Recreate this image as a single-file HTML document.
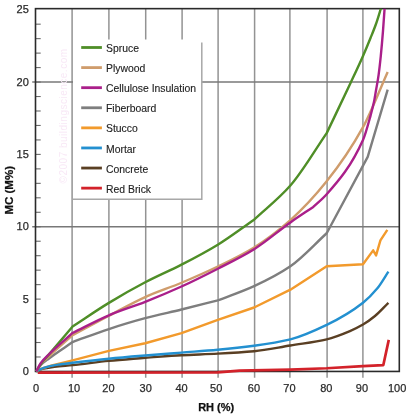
<!DOCTYPE html>
<html><head><meta charset="utf-8"><style>
html,body{margin:0;padding:0;background:#fff;width:420px;height:416px;overflow:hidden}
svg{display:block;filter:blur(0.45px);will-change:transform}
.ax{font-family:"Liberation Sans",sans-serif;font-size:11px;fill:#2a2a2a;stroke:#2a2a2a;stroke-width:0.25px}
.lg{font-family:"Liberation Sans",sans-serif;font-size:10.4px;fill:#222;stroke:#222;stroke-width:0.12px}
.ti{font-family:"Liberation Sans",sans-serif;font-size:11px;font-weight:bold;fill:#111;stroke:#111;stroke-width:0.25px}
.wm{font-family:"Liberation Sans",sans-serif;font-size:10px;letter-spacing:0.5px;fill:#f8e8f6}
</style></head><body>
<svg width="420" height="416" viewBox="0 0 420 416">
<line x1="72.10" y1="8.65" x2="72.10" y2="377.65" stroke="#939393" stroke-width="1.5"/>
<line x1="108.90" y1="8.65" x2="108.90" y2="377.65" stroke="#939393" stroke-width="1.5"/>
<line x1="145.70" y1="8.65" x2="145.70" y2="377.65" stroke="#939393" stroke-width="1.5"/>
<line x1="182.10" y1="8.65" x2="182.10" y2="377.65" stroke="#939393" stroke-width="1.5"/>
<line x1="218.10" y1="8.65" x2="218.10" y2="377.65" stroke="#939393" stroke-width="1.5"/>
<line x1="254.60" y1="8.65" x2="254.60" y2="377.65" stroke="#939393" stroke-width="1.5"/>
<line x1="289.90" y1="8.65" x2="289.90" y2="377.65" stroke="#939393" stroke-width="1.5"/>
<line x1="327.10" y1="8.65" x2="327.10" y2="377.65" stroke="#939393" stroke-width="1.5"/>
<line x1="362.90" y1="8.65" x2="362.90" y2="377.65" stroke="#939393" stroke-width="1.5"/>
<line x1="32.20" y1="226.75" x2="399.30" y2="226.75" stroke="#787878" stroke-width="1.5"/>
<line x1="32.20" y1="82.05" x2="399.30" y2="82.05" stroke="#787878" stroke-width="1.5"/>
<line x1="35.50" y1="356.98" x2="40.70" y2="356.98" stroke="#6a6a6a" stroke-width="1.1"/>
<line x1="35.50" y1="342.51" x2="40.70" y2="342.51" stroke="#6a6a6a" stroke-width="1.1"/>
<line x1="35.50" y1="328.04" x2="40.70" y2="328.04" stroke="#6a6a6a" stroke-width="1.1"/>
<line x1="35.50" y1="313.57" x2="40.70" y2="313.57" stroke="#6a6a6a" stroke-width="1.1"/>
<line x1="35.50" y1="299.10" x2="40.70" y2="299.10" stroke="#6a6a6a" stroke-width="1.1"/>
<line x1="35.50" y1="284.63" x2="40.70" y2="284.63" stroke="#6a6a6a" stroke-width="1.1"/>
<line x1="35.50" y1="270.16" x2="40.70" y2="270.16" stroke="#6a6a6a" stroke-width="1.1"/>
<line x1="35.50" y1="255.69" x2="40.70" y2="255.69" stroke="#6a6a6a" stroke-width="1.1"/>
<line x1="35.50" y1="241.22" x2="40.70" y2="241.22" stroke="#6a6a6a" stroke-width="1.1"/>
<line x1="35.50" y1="226.75" x2="40.70" y2="226.75" stroke="#6a6a6a" stroke-width="1.1"/>
<line x1="35.50" y1="212.28" x2="40.70" y2="212.28" stroke="#6a6a6a" stroke-width="1.1"/>
<line x1="35.50" y1="197.81" x2="40.70" y2="197.81" stroke="#6a6a6a" stroke-width="1.1"/>
<line x1="35.50" y1="183.34" x2="40.70" y2="183.34" stroke="#6a6a6a" stroke-width="1.1"/>
<line x1="35.50" y1="168.87" x2="40.70" y2="168.87" stroke="#6a6a6a" stroke-width="1.1"/>
<line x1="35.50" y1="154.40" x2="40.70" y2="154.40" stroke="#6a6a6a" stroke-width="1.1"/>
<line x1="35.50" y1="139.93" x2="40.70" y2="139.93" stroke="#6a6a6a" stroke-width="1.1"/>
<line x1="35.50" y1="125.46" x2="40.70" y2="125.46" stroke="#6a6a6a" stroke-width="1.1"/>
<line x1="35.50" y1="110.99" x2="40.70" y2="110.99" stroke="#6a6a6a" stroke-width="1.1"/>
<line x1="35.50" y1="96.52" x2="40.70" y2="96.52" stroke="#6a6a6a" stroke-width="1.1"/>
<line x1="35.50" y1="82.05" x2="40.70" y2="82.05" stroke="#6a6a6a" stroke-width="1.1"/>
<line x1="35.50" y1="67.58" x2="40.70" y2="67.58" stroke="#6a6a6a" stroke-width="1.1"/>
<line x1="35.50" y1="53.11" x2="40.70" y2="53.11" stroke="#6a6a6a" stroke-width="1.1"/>
<line x1="35.50" y1="38.64" x2="40.70" y2="38.64" stroke="#6a6a6a" stroke-width="1.1"/>
<line x1="35.50" y1="24.17" x2="40.70" y2="24.17" stroke="#6a6a6a" stroke-width="1.1"/>
<text class="wm" transform="translate(66.6,183.4) rotate(-90)">©2007 buildingscience.com</text>
<rect x="73" y="39.5" width="128.8" height="159.7" fill="#fff"/>
<polyline points="73,199.2 201.8,199.2 201.8,42.5" fill="none" stroke="#a8a8a8" stroke-width="1.5"/>
<line x1="81.2" y1="47.50" x2="101.9" y2="47.50" stroke="#4f8e27" stroke-width="2.8"/>
<text x="106" y="52.10" class="lg">Spruce</text>
<line x1="81.2" y1="67.59" x2="101.9" y2="67.59" stroke="#cf9c6c" stroke-width="2.8"/>
<text x="106" y="72.19" class="lg">Plywood</text>
<line x1="81.2" y1="87.68" x2="101.9" y2="87.68" stroke="#aa1f8a" stroke-width="2.8"/>
<text x="106" y="92.28" class="lg">Cellulose Insulation</text>
<line x1="81.2" y1="107.77" x2="101.9" y2="107.77" stroke="#7e7e7e" stroke-width="2.8"/>
<text x="106" y="112.37" class="lg">Fiberboard</text>
<line x1="81.2" y1="127.86" x2="101.9" y2="127.86" stroke="#f29a2c" stroke-width="2.8"/>
<text x="106" y="132.46" class="lg">Stucco</text>
<line x1="81.2" y1="147.95" x2="101.9" y2="147.95" stroke="#2390d0" stroke-width="2.8"/>
<text x="106" y="152.55" class="lg">Mortar</text>
<line x1="81.2" y1="168.04" x2="101.9" y2="168.04" stroke="#5a3f23" stroke-width="2.8"/>
<text x="106" y="172.64" class="lg">Concrete</text>
<line x1="81.2" y1="188.13" x2="101.9" y2="188.13" stroke="#d3222a" stroke-width="2.8"/>
<text x="106" y="192.73" class="lg">Red Brick</text>
<rect x="35.5" y="8.65" width="363.8" height="362.8" fill="none" stroke="#2a2a2a" stroke-width="1.6"/>
<clipPath id="cp"><rect x="33.5" y="8.65" width="365.8" height="365.8"/></clipPath>
<g fill="none" stroke-width="2.4" stroke-linejoin="round" stroke-linecap="butt" clip-path="url(#cp)">
<path d="M37.75,372.61 L217.80,372.46 L239.58,370.58 L290.40,369.57 L326.70,368.27 L363.00,366.10 L383.33,365.08 L388.77,339.91" stroke="#d3222a" stroke-width="2.7"/>
<path d="M36.30,371.45 C38.72,370.53 41.14,369.29 43.56,368.70 C47.19,367.82 50.82,367.28 54.45,366.82 C60.50,366.06 66.55,365.71 72.60,365.08 C84.70,363.83 96.80,362.09 108.90,360.89 C121.00,359.68 133.10,358.76 145.20,357.70 C157.30,356.88 169.40,355.89 181.50,355.24 C193.60,354.60 205.70,354.30 217.80,353.65 C229.90,353.01 242.00,352.33 254.10,351.19 C266.20,350.05 278.30,347.43 290.40,345.55 C302.50,343.47 314.60,342.20 326.70,339.33 C334.44,337.49 342.19,334.34 349.93,331.08 C354.29,329.24 358.64,327.13 363.00,324.57 C366.99,322.22 370.99,319.32 374.98,316.03 C379.46,312.35 383.93,307.25 388.41,302.86" stroke="#5a3f23" stroke-width="2.4"/>
<path d="M36.30,371.45 L41.74,368.56 L51.91,365.37 L72.60,360.31 L108.90,350.90 L145.20,343.23 L181.50,333.10 L217.80,319.79 L254.10,307.49 L290.40,289.69 L326.70,266.25 L363.00,264.23 L373.16,250.34 L376.07,255.40 L380.42,240.35 L387.32,229.79" stroke="#f29a2c" stroke-width="2.4"/>
<path d="M36.30,371.45 C38.72,370.24 41.14,368.61 43.56,367.83 C48.28,366.31 53.00,365.41 57.72,364.65 C62.68,363.84 67.64,363.36 72.60,362.77 C84.70,361.32 96.80,359.90 108.90,358.72 C121.00,357.53 133.10,356.54 145.20,355.53 C157.30,354.52 169.40,353.60 181.50,352.64 C193.60,351.67 205.70,350.87 217.80,349.75 C229.90,348.62 242.00,347.34 254.10,345.69 C266.20,344.04 278.30,342.27 290.40,339.33 C302.50,336.38 314.60,330.69 326.70,324.86 C338.80,319.02 350.90,312.23 363.00,302.72 C367.72,299.01 372.44,294.26 377.16,288.54 C380.91,283.99 384.66,277.25 388.41,271.61" stroke="#2390d0" stroke-width="2.4"/>
<path d="M36.30,371.45 C37.75,369.38 39.20,366.78 40.66,365.23 C43.44,362.26 46.22,360.54 49.00,358.43 C56.87,352.46 64.73,347.53 72.60,342.08 C84.70,337.73 96.80,333.00 108.90,329.05 C121.00,325.11 133.10,321.42 145.20,318.20 C157.30,314.98 169.40,312.48 181.50,309.52 C193.60,306.55 205.70,303.44 217.80,300.40 C229.90,295.63 242.00,291.62 254.10,286.08 C266.20,280.53 278.30,274.51 290.40,266.25 C302.50,258.00 314.60,244.26 326.70,233.26 L367.72,156.86 L387.68,89.57" stroke="#7e7e7e" stroke-width="2.4"/>
<path d="M36.30,371.45 C37.75,369.04 39.20,366.03 40.66,364.21 C43.44,360.75 46.22,358.84 49.00,356.26 C56.87,348.96 64.73,342.17 72.60,335.13 C84.70,328.67 96.80,322.08 108.90,315.74 C121.00,309.40 133.10,302.48 145.20,297.07 C157.30,291.67 169.40,287.82 181.50,282.75 C193.60,277.68 205.70,272.39 217.80,266.54 C229.90,260.70 242.00,254.94 254.10,247.44 C266.20,239.94 278.30,230.79 290.40,220.09 C302.50,209.40 314.60,196.38 326.70,181.31 C338.80,166.25 350.90,149.13 363.00,127.20 C371.23,112.28 379.46,90.35 387.68,71.92" stroke="#cf9c6c" stroke-width="2.4"/>
<path d="M36.30,371.45 C37.75,369.04 39.20,366.25 40.66,364.21 C43.44,360.31 46.22,357.66 49.00,354.38 C56.87,345.09 64.73,335.76 72.60,326.45 C84.70,318.59 96.80,310.18 108.90,302.86 C121.00,295.54 133.10,288.65 145.20,282.31 C157.30,275.98 169.40,270.91 181.50,264.66 C193.60,258.41 205.70,252.10 217.80,244.69 C229.90,237.29 242.00,228.00 254.10,219.66 C266.20,208.28 278.30,199.29 290.40,185.51 C302.50,171.73 314.60,150.59 326.70,133.13 C334.69,116.34 342.67,99.85 350.66,82.77 C354.77,73.98 358.89,65.40 363.00,56.00 C365.54,50.20 368.08,44.09 370.62,37.77 C372.44,33.26 374.25,28.90 376.07,23.74 C377.70,19.09 379.33,13.41 380.97,8.25" stroke="#4f8e27" stroke-width="2.4"/>
<path d="M36.30,371.45 C37.75,368.70 39.20,365.25 40.66,363.20 C43.44,359.27 46.22,357.00 49.00,354.23 C56.87,346.41 64.73,340.05 72.60,332.96 C84.70,327.08 96.80,320.40 108.90,315.31 C121.00,310.22 133.10,306.63 145.20,301.85 C157.30,297.07 169.40,292.00 181.50,286.51 C193.60,281.02 205.70,274.92 217.80,268.71 C229.90,262.50 242.00,256.71 254.10,249.18 C266.20,241.65 278.30,230.92 290.40,222.41 C298.02,217.04 305.65,212.09 313.27,206.93 C317.75,202.68 322.22,199.21 326.70,194.19 C338.80,180.62 350.90,166.80 363.00,139.93 C365.54,134.29 368.08,124.52 370.62,115.33 C371.71,111.39 372.80,107.46 373.89,102.31 C374.62,98.88 375.34,94.22 376.07,90.01 C376.91,85.09 377.76,80.83 378.61,74.81 C379.33,69.66 380.06,63.11 380.79,56.00 C381.51,48.90 382.24,40.58 382.96,31.40 C383.51,24.52 384.05,15.97 384.60,8.25" stroke="#aa1f8a" stroke-width="2.4"/>
</g>
<text x="28.8" y="374.95" class="ax" text-anchor="end">0</text>
<text x="28.8" y="302.60" class="ax" text-anchor="end">5</text>
<text x="28.8" y="230.25" class="ax" text-anchor="end">10</text>
<text x="28.8" y="157.90" class="ax" text-anchor="end">15</text>
<text x="28.8" y="85.55" class="ax" text-anchor="end">20</text>
<text x="28.8" y="12.50" class="ax" text-anchor="end">25</text>
<text x="35.95" y="392.0" class="ax" text-anchor="middle">0</text>
<text x="74.00" y="392.0" class="ax" text-anchor="middle">10</text>
<text x="108.40" y="392.0" class="ax" text-anchor="middle">20</text>
<text x="145.70" y="392.0" class="ax" text-anchor="middle">30</text>
<text x="181.50" y="392.0" class="ax" text-anchor="middle">40</text>
<text x="216.15" y="392.0" class="ax" text-anchor="middle">50</text>
<text x="253.95" y="392.0" class="ax" text-anchor="middle">60</text>
<text x="289.40" y="392.0" class="ax" text-anchor="middle">70</text>
<text x="326.35" y="392.0" class="ax" text-anchor="middle">80</text>
<text x="361.95" y="392.0" class="ax" text-anchor="middle">90</text>
<text x="397.10" y="392.0" class="ax" text-anchor="middle">100</text>
<text x="0" y="0" class="ti" style="font-size:11.5px" transform="translate(13.3,190.3) rotate(-90)" text-anchor="middle">MC (M%)</text>
<text x="216.2" y="411" class="ti" text-anchor="middle">RH (%)</text>
</svg></body></html>
